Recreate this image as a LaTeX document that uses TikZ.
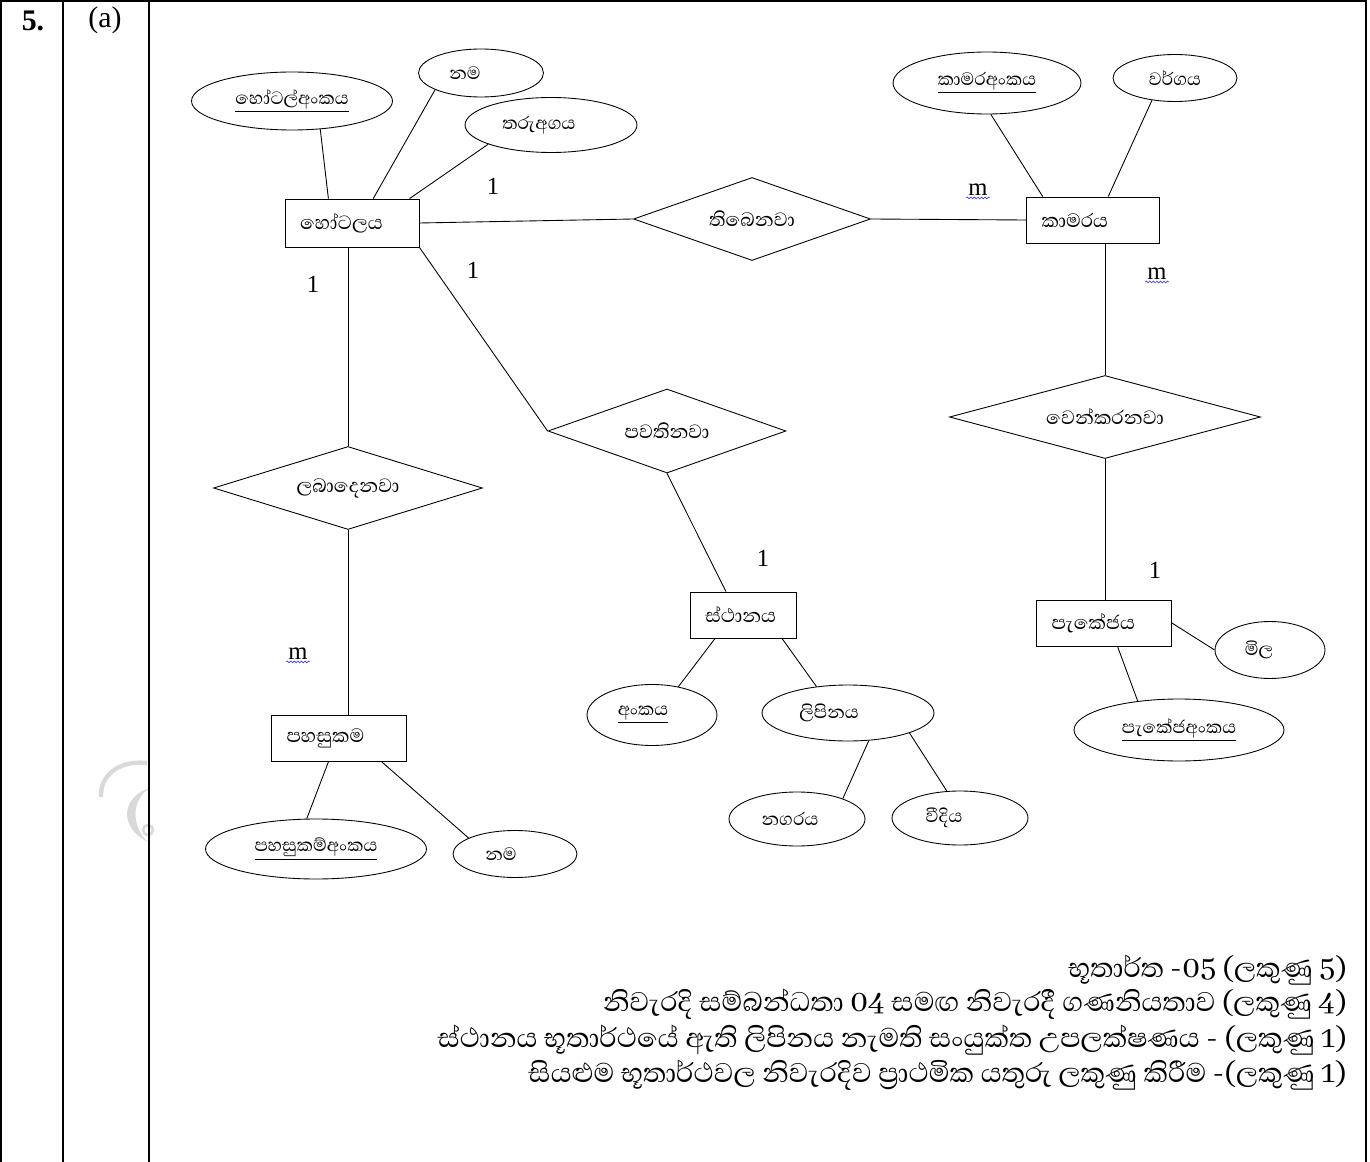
\documentclass[tikz,border=0pt]{standalone}
\usepackage{fontspec}
\setmainfont{Liberation Serif}
\newfontfamily\sinhalafont[Script=Sinhala]{Abhaya Libre}
\usetikzlibrary{shapes.geometric,decorations.pathmorphing}

\begin{document}
\begin{tikzpicture}[x=0.02cm, y=-0.02cm,
	entity/.style={draw, line width=0.5pt, font=\sinhalafont\fontsize{14}{16}\selectfont, minimum height=0.92cm, inner xsep=0.3cm, text width=#1, align=left},
	entity/.default=2.08cm,
	attrib/.style={draw, line width=0.5pt, ellipse, inner sep=0pt, font=\sinhalafont\fontsize{13}{15}\selectfont},
	rel/.style={draw, line width=0.5pt, diamond, aspect=2.9, inner sep=0pt, minimum height=1.66cm, font=\sinhalafont\fontsize{14}{16}\selectfont},
	link/.style={draw, line width=0.5pt},
	card/.style={font=\fontsize{14}{16}\selectfont, inner sep=1pt},
	wavy/.style={draw=blue!75, line width=0.4pt, decorate, decoration={snake, amplitude=0.5pt, segment length=2pt}},
	tbl/.style={draw, line width=1.2pt},
	marks/.style={font=\sinhalafont\fontsize{19.7}{22}\selectfont, anchor=base east, inner sep=0pt}]
			\useasboundingbox (0,0) rectangle (1370,1162);

			% watermark
			\draw[gray!30, line width=2.5pt] (147,763) .. controls (118,760) and (100,776) .. (101,797);
			\fill[gray!30] (150,788) .. controls (124,795) and (116,826) .. (148,842) .. controls (132,828) and (130,800) .. (150,788);
			\draw[gray!30, line width=1.5pt] (148,830) circle (5);

			% table frame
			\draw[tbl] (1,1162) -- (1,1) -- (1366,1) -- (1366,1162);
			\draw[tbl] (63,1) -- (63,1162);
			\draw[tbl] (149,1) -- (149,1162);
			\node[font=\bfseries\fontsize{17}{20}\selectfont] (qno) at (33,21) {5.};
			\node[font=\fontsize{17}{20}\selectfont] (part) at (105,20) {(a)};

			% entities
			\node[entity, minimum height=0.96cm] (hotel) at (352,223) {හෝටලය};
			\node[entity=2.06cm] (room) at (1093,220) {කාමරය};
			\node[entity=2.10cm] (facility) at (339,738) {පහසුකම};
			\node[entity=1.52cm] (location) at (743,615) {ස්ථානය};
			\node[entity=2.10cm] (package) at (1104,623) {පැකේජය};

			% relationships
			\node[rel, minimum width=4.74cm] (has) at (752,219) {තිබෙනවා};
			\node[rel, minimum width=5.38cm] (offer) at (348,488) {ලබාදෙනවා};
			\node[rel, minimum width=4.76cm, minimum height=1.68cm] (located) at (667,431) {පවතිනවා};
			\node[rel, minimum width=6.22cm] (reserve) at (1105,417) {වෙන්කරනවා};

			% attributes
			\node[attrib, minimum width=4.02cm, minimum height=1.16cm] (hotelno) at (292,101) {\underline{හෝටල්අංකය}};
			\node[attrib, minimum width=2.50cm, minimum height=0.96cm] (hname) at (481,73) {නම\kern0.64cm};
			\node[attrib, minimum width=3.44cm, minimum height=1.10cm] (stars) at (551,125) {තරුඅගය\kern0.48cm};
			\node[attrib, minimum width=3.76cm, minimum height=1.24cm] (roomno) at (987,83) {\underline{කාමරඅංකය}};
			\node[attrib, minimum width=2.48cm, minimum height=0.94cm] (rtype) at (1175,78) {වර්ගය};
			\node[attrib, minimum width=4.42cm, minimum height=1.20cm] (facno) at (316,849) {\underline{පහසුකම්අංකය}};
			\node[attrib, minimum width=2.48cm, minimum height=0.94cm] (fname) at (515,854) {නම\kern0.56cm};
			\node[attrib, minimum width=2.60cm, minimum height=1.22cm] (locno) at (652,715) {\underline{අංකය}\kern0.36cm};
			\node[attrib, minimum width=3.44cm, minimum height=1.12cm] (addr) at (848,713) {ලිපිනය\kern0.76cm};
			\node[attrib, minimum width=2.72cm, minimum height=1.08cm] (city) at (797,819) {නගරය\kern0.28cm};
			\node[attrib, minimum width=2.72cm, minimum height=1.08cm] (street) at (960,818) {වීදිය\kern0.64cm};
			\node[attrib, minimum width=2.20cm, minimum height=1.14cm] (price) at (1270,650) {මිල\kern0.44cm};
			\node[attrib, minimum width=4.20cm, minimum height=1.24cm] (pkgno) at (1179,730) {\underline{පැකේජඅංකය}};

			\path
			(hotelno.-45) edge[link] (hotel.134)
			(hname.200) edge[link] (hotel.49)
			(stars.197) edge[link] (hotel.23)
			(hotel.east) edge[link] (has.west)
			(has.east) edge[link] (room.west)
			(roomno.277) edge[link] (room.155)
			(rtype.224) edge[link] (room.57)
			(reserve.north) edge[link] (reserve.north |- room.south)
			(reserve.south) edge[link] (reserve.south |- package.north)
			(package.east) edge[link] (price.west)
			(package.300) edge[link] (pkgno.145)
			(offer.north) edge[link] (offer.north |- hotel.south)
			(offer.south) edge[link] (offer.south |- facility.north)
			(facility.246) edge[link] (facno.107)
			(facility.331) edge[link] (fname.161)
			(hotel.south east) edge[link] (located.west)
			(located.south) edge[link] (location.126)
			(location.220) edge[link] (locno.47)
			(location.329) edge[link] (addr.140)
			(addr.307) edge[link] (city.24)
			(addr.342) edge[link] (street.116);

			% cardinalities
			\node[card] (c1) at (493,186) {1};
			\node[card] (c2) at (978,190) {m};
			\node[card] (c3) at (313,284) {1};
			\node[card] (c4) at (473,270) {1};
			\node[card] (c5) at (1157,274) {m};
			\node[card] (c6) at (298,654) {m};
			\node[card] (c7) at (763,558) {1};
			\node[card] (c8) at (1155,570) {1};
			\path[wavy] (c2.south west) -- (c2.south east);
			\path[wavy] (c5.south west) -- (c5.south east);
			\path[wavy] (c6.south west) -- (c6.south east);

			% marking notes
			\node[marks] (n1) at (1347,977) {භූතාර්ත -05 (ලකුණු 5)};
			\node[marks] (n2) at (1347,1011) {නිවැරදි සම්බන්ධතා 04 සමඟ නිවැරදී ගණනියතාව (ලකුණු 4)};
			\node[marks] (n3) at (1347,1047) {ස්ථානය භූතාර්ථයේ ඇති ලිපිනය නැමති සංයුක්ත උපලක්ෂණය - (ලකුණු 1)};
			\node[marks] (n4) at (1347,1082) {සියළුම භූතාර්ථවල නිවැරදිව ප්‍රාථමික යතුරු ලකුණු කිරීම -(ලකුණු 1)};
\end{tikzpicture}
\end{document}
